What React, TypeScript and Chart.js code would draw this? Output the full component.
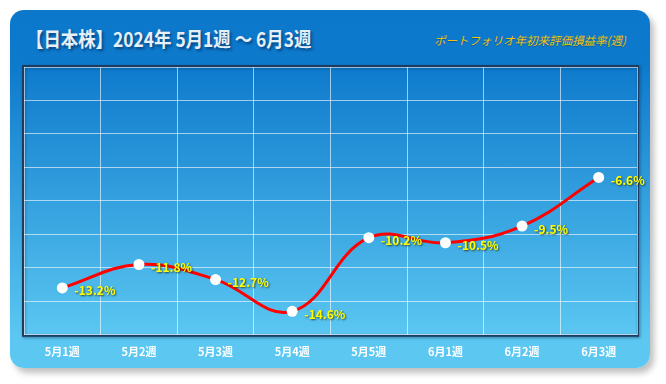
import React, { useEffect, useRef } from "react";
import { Chart, registerables } from "chart.js";

Chart.register(...registerables);

const categories = ["5月1週", "5月2週", "5月3週", "5月4週", "5月5週", "6月1週", "6月2週", "6月3週"];
const returns = [-13.2, -11.8, -12.7, -14.6, -10.2, -10.5, -9.5, -6.6];
const titleText = "【日本株】2024年 5月1週 ～ 6月3週";
const subtitleText = "ポートフォリオ年初来評価損益率(週)";
const yMin = -16;
const yMax = 0;
const yStep = 2;

const borderPlugin = {
  id: "plotBorder",
  beforeDraw(chart: any) {
    const { ctx, chartArea } = chart;
    ctx.save();
    ctx.shadowColor = "rgba(0,20,50,0.5)";
    ctx.shadowBlur = 3;
    ctx.shadowOffsetX = 1;
    ctx.shadowOffsetY = 1;
    ctx.strokeStyle = "#1c3c62";
    ctx.lineWidth = 2;
    ctx.strokeRect(chartArea.left - 1, chartArea.top - 1, chartArea.right - chartArea.left + 2, chartArea.bottom - chartArea.top + 2);
    ctx.restore();
  },
};

const labelPlugin = {
  id: "pointLabels",
  afterDatasetsDraw(chart: any) {
    const { ctx } = chart;
    const meta = chart.getDatasetMeta(0);
    ctx.save();
    ctx.font = "bold 12px 'Noto Sans CJK JP', sans-serif";
    ctx.textAlign = "left";
    ctx.textBaseline = "middle";
    meta.data.forEach((pt: any, i: number) => {
      const txt = returns[i].toFixed(1) + "%";
      ctx.shadowColor = "rgba(40,40,0,0.8)";
      ctx.shadowBlur = 2;
      ctx.shadowOffsetX = 1;
      ctx.shadowOffsetY = 1;
      ctx.fillStyle = "#ffff00";
      ctx.fillText(txt, pt.x + 12, pt.y + 3);
    });
    ctx.restore();
  },
};

const tickShadowPlugin = {
  id: "tickShadow",
  beforeDraw(chart: any) {
    chart.ctx.save();
  },
  beforeDatasetsDraw(chart: any) {
    chart.ctx.restore();
  },
  beforeDrawScales: undefined,
};

export default function App() {
  const ref = useRef<HTMLCanvasElement>(null);
  useEffect(() => {
    if (!ref.current) return;
    const chart = new Chart(ref.current, {
      type: "line",
      data: {
        labels: categories,
        datasets: [
          {
            data: returns,
            borderColor: "#ff0000",
            borderWidth: 3,
            tension: 0.4,
            pointRadius: 5.5,
            pointBackgroundColor: "#ffffff",
            pointBorderColor: "#ffffff",
            pointBorderWidth: 0,
          },
        ],
      },
      options: {
        animation: false,
        responsive: false,
        maintainAspectRatio: false,
        layout: { padding: { left: 14, right: 13, top: 7, bottom: 0 } },
        plugins: { legend: { display: false }, title: { display: false }, tooltip: { enabled: false } },
        scales: {
          x: {
            offset: true,
            grid: { offset: true, color: "rgba(255,255,255,0.6)", lineWidth: 1, drawTicks: false },
            border: { display: false },
            ticks: {
              color: "#ffffff",
              font: { family: "'Noto Sans CJK JP', sans-serif", size: 11, weight: "bold" },
              padding: 10,
              maxRotation: 0,
            },
          },
          y: {
            min: yMin,
            max: yMax,
            ticks: { display: false, stepSize: yStep },
            grid: { color: "rgba(255,255,255,0.6)", lineWidth: 1, drawTicks: false },
            border: { display: false },
          },
        },
      },
      plugins: [borderPlugin, labelPlugin],
    });
    return () => chart.destroy();
  }, []);

  return (
    <div
      style={{
        position: "absolute",
        left: 10,
        top: 10,
        width: 640,
        height: 358,
        borderRadius: 14,
        background: "linear-gradient(to bottom, #0c78cc 0%, #0e7acc 16%, #5cc8f2 92%, #5cc8f2 100%)",
        boxShadow: "4px 5px 6px rgba(0,0,0,0.25)",
        overflow: "visible",
      }}
    >
      <div
        style={{
          position: "absolute",
          left: 16,
          top: 15,
          fontFamily: "'Noto Sans CJK JP', sans-serif",
          fontWeight: "bold",
          fontSize: 20,
          color: "#e6f0f8",
          whiteSpace: "nowrap",
          textShadow: "2px 2px 3px rgba(0,30,70,0.6)",
          lineHeight: "28px",
          transform: "scaleX(0.87)",
          transformOrigin: "left center",
        }}
      >
        {titleText}
      </div>
      <div
        style={{
          position: "absolute",
          left: 424,
          top: 22,
          fontFamily: "'Noto Sans CJK JP', sans-serif",
          fontStyle: "italic",
          fontSize: 11.5,
          color: "#f4c410",
          whiteSpace: "nowrap",
          lineHeight: "16px",
          textShadow: "0px 1px 1px rgba(0,0,0,0.3)",
        }}
      >
        {subtitleText}
      </div>
      <canvas
        ref={ref}
        width={640}
        height={308}
        style={{ position: "absolute", left: 0, top: 50, width: 640, height: 308 }}
      />
    </div>
  );
}
